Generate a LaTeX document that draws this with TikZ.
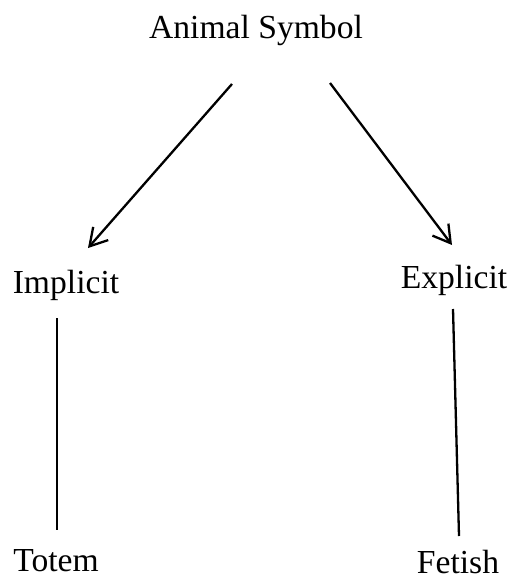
\documentclass[tikz,border=0pt]{standalone}
\usepackage{fontspec}
\setmainfont{Liberation Serif}
\usetikzlibrary{arrows.meta,calc}
\begin{document}
\begin{tikzpicture}[x=1pt,y=-1pt,
  label/.style={anchor=base,inner sep=0pt,font=\fontsize{33.6}{40}\selectfont},
  link/.style={line width=2.3pt},
  arr/.style={link,-{Straight Barb[length=17pt,width=20pt,line width=2.3pt]}}]
  \useasboundingbox (0,0) rectangle (506,578);
  % labels, placed by their baselines
  \node[label] (sym)    at (256,39)  {Animal Symbol};
  \node[label] (impl)   at (66,293)  {Implicit};
  \node[label] (expl)   at (454,288) {Explicit};
  \node[label] (totem)  at (56,571)  {Totem};
  \node[label] (fetish) at (458,573) {Fetish};
  % arrows from the root
  \draw[arr] ($(sym.base)+(-24,45)$) -- ($(impl.base)+(22,-45)$);
  \draw[arr] ($(sym.base)+(74,44)$) -- ($(expl.base)+(-2,-43)$);
  % plain links to the leaves
  \draw[link] ($(impl.base)+(-9,25)$) -- ($(totem.base)+(1,-41)$);
  \draw[link] ($(expl.base)+(-1,21)$) -- ($(fetish.base)+(1,-37)$);
\end{tikzpicture}
\end{document}
